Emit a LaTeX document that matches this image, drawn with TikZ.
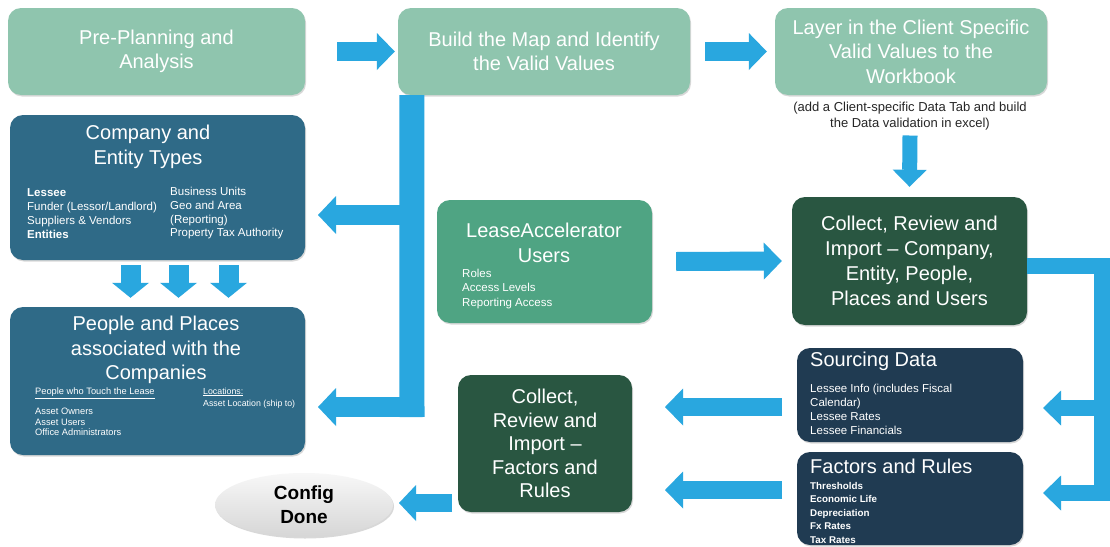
\documentclass[tikz,border=0pt]{standalone}
\usepackage{fontspec}
\setmainfont{Liberation Sans}
\usetikzlibrary{arrows.meta,shadows,shapes.geometric}
\definecolor{csage}{HTML}{8FC5AE}
\definecolor{cteal}{HTML}{2F6A87}
\definecolor{cgreen}{HTML}{4FA483}
\definecolor{cdark}{HTML}{295641}
\definecolor{cnavy}{HTML}{203B52}
\definecolor{cblue}{HTML}{29A7DF}
\begin{document}
\begin{tikzpicture}[x=1pt,y=-1pt,
  box/.style={rounded corners=13pt, inner sep=0pt, align=center, text=white,
     font=\fontsize{20}{24.5}\selectfont,
     drop shadow={shadow xshift=1pt,shadow yshift=-1.5pt,opacity=0.3}},
  ttl/.style={text=white, inner sep=0pt, align=center, font=\fontsize{20}{24.5}\selectfont},
  sml/.style={text=white, inner sep=0pt, align=left, anchor=north west, font=\fontsize{11.5}{13.8}\selectfont},
  blk/.style={draw=cblue, line width=19pt, line join=miter, -{Triangle[width=37pt,length=18pt,line width=0pt]}},
  conn/.style={draw=cblue, line width=16pt, line join=miter, -{Triangle[width=35pt,length=18pt,line width=0pt]}},
  bar/.style={draw=cblue, line width=25pt},
]
\useasboundingbox (0,0) rectangle (1110,546);
\fill[white] (0,0) rectangle (1110,546);

% top row
\node[box, fill=csage, minimum width=297pt, minimum height=87pt] (pre) at (156.5,51.5) {Pre-Planning and\\Analysis};
\node[box, fill=csage, minimum width=292pt, minimum height=87pt] (build) at (544,51.5) {Build the Map and Identify\\the Valid Values};
\node[box, fill=csage, minimum width=272pt, minimum height=87pt] (layer) at (911,51.5) {Layer in the Client Specific\\Valid Values to the\\Workbook};
\node[text=black!85, inner sep=0pt, align=center, font=\fontsize{13}{16.5}\selectfont] (note) at (910,116) {(add a Client-specific Data Tab and build\\the Data validation in excel)};

% company
\node[box, fill=cteal, minimum width=295pt, minimum height=145pt] (company) at (157.5,187.5) {};
\node[ttl] (companyT) at (148,147) {Company and\\Entity Types};
\node[sml] (companyL) at (27,188.5) {\textbf{Lessee}\\Funder (Lessor/Landlord)\\Suppliers \& Vendors\\\textbf{Entities}};
\node[sml] (companyR) at (170,187) {Business Units\\Geo and Area\\(Reporting)\\Property Tax Authority};

% people
\node[box, fill=cteal, minimum width=295pt, minimum height=148pt] (people) at (157.5,381) {};
\node[ttl] (peopleT) at (156,350) {People and Places\\associated with the\\Companies};
\node[sml, font=\fontsize{9.3}{10.5}\selectfont] (peopleL) at (35,388) {\underline{People who Touch the Lease}\\[9.5pt]Asset Owners\\Asset Users\\Office Administrators};
\node[sml, font=\fontsize{8.8}{12}\selectfont] (peopleR) at (203,387.5) {\underline{Locations:}\\Asset Location (ship to)};

% users
\node[box, fill=cgreen, minimum width=215pt, minimum height=123pt] (users) at (544.5,261.5) {};
\node[ttl] (usersT) at (544,243) {LeaseAccelerator\\Users};
\node[sml, font=\fontsize{11.5}{14.5}\selectfont] (usersL) at (462,268.5) {Roles\\Access Levels\\Reporting Access};

% collect (top)
\node[box, fill=cdark, minimum width=235pt, minimum height=128pt, font=\fontsize{20}{25}\selectfont] (collect) at (909.5,261) {Collect, Review and\\Import – Company,\\Entity, People,\\Places and Users};

% sourcing
\node[box, fill=cnavy, minimum width=226pt, minimum height=94pt] (sourcing) at (910,395) {};
\node[ttl, anchor=west] (sourcingT) at (810,361) {Sourcing Data};
\node[sml, font=\fontsize{11.5}{14}\selectfont] (sourcingL) at (810,383.5) {Lessee Info (includes Fiscal\\Calendar)\\Lessee Rates\\Lessee Financials};

% factors
\node[box, fill=cnavy, minimum width=226pt, minimum height=93pt] (factors) at (910,498.5) {};
\node[ttl, anchor=west] (factorsT) at (810,466) {Factors and Rules};
\node[sml, font=\bfseries\fontsize{9.8}{13.5}\selectfont] (factorsL) at (810,482) {Thresholds\\Economic Life\\Depreciation\\Fx Rates\\Tax Rates};

% collect factors
\node[box, fill=cdark, minimum width=174pt, minimum height=137pt, font=\fontsize{20}{23.5}\selectfont] (cf) at (545,443.5) {Collect,\\Review and\\Import –\\Factors and\\Rules};

% config done
\node[ellipse, minimum width=178pt, minimum height=64pt, top color=gray!6, bottom color=gray!32, inner sep=0pt, align=center, font=\bfseries\fontsize{19}{24}\selectfont, drop shadow={shadow xshift=1pt,shadow yshift=-1.5pt,opacity=0.3}] (config) at (304,505) {Config\\Done};

% connectors
\draw[blk] ([xshift=32pt]pre.east) -- ([xshift=-3pt]build.west);
\draw[blk] ([xshift=15pt]build.east) -- ([xshift=-8pt]layer.west);
\draw[blk, line width=15pt, -{Triangle[width=34pt,length=17pt,line width=0pt]}] ([yshift=-5pt]note.south) -- ([yshift=10pt]collect.north);
\draw[blk] ([xshift=24pt]users.east) -- ([xshift=-10pt]collect.west);

\coordinate (bvtop) at ([xshift=14pt]build.south west);
\coordinate (bvbot) at (412,417);
\coordinate (bj1) at (412,215);
\coordinate (bj2) at (412,407);
\coordinate (ctip) at (318,215);
\coordinate (ptip) at (318,407);
\draw[bar] (bvtop) -- (bvbot);
\draw[blk, line width=20pt, -{Triangle[width=38pt,length=18pt,line width=0pt]}] (bj1) -- (ctip);
\draw[blk, line width=20pt, -{Triangle[width=38pt,length=18pt,line width=0pt]}] (bj2) -- (ptip);

\foreach \dx in {-27,21,71}
  \draw[blk, line width=20pt, -{Triangle[width=37pt,length=15pt,line width=0pt]}] ([xshift=\dx pt,yshift=-5pt]company.south) -- ([xshift=\dx pt,yshift=9pt]people.north);

\coordinate (rb) at (1102,493);
\coordinate (rj) at (1102,408);
\coordinate (ftip) at (1043,493);
\coordinate (stip) at (1043,408);
\draw[conn] ([yshift=-5pt]collect.east) -| (rb) -- (ftip);
\draw[conn] (rj) -- (stip);

\coordinate (s1) at (782,407);
\coordinate (s2) at (665,407);
\coordinate (f1) at (782,490);
\coordinate (f2) at (665,490);
\draw[blk, line width=18pt] (s1) -- (s2);
\draw[blk, line width=18pt] (f1) -- (f2);

\coordinate (k1) at (452,503);
\coordinate (k2) at (399,503);
\draw[blk, line width=18pt, -{Triangle[width=36pt,length=17pt,line width=0pt]}] (k1) -- (k2);
\end{tikzpicture}
\end{document}
